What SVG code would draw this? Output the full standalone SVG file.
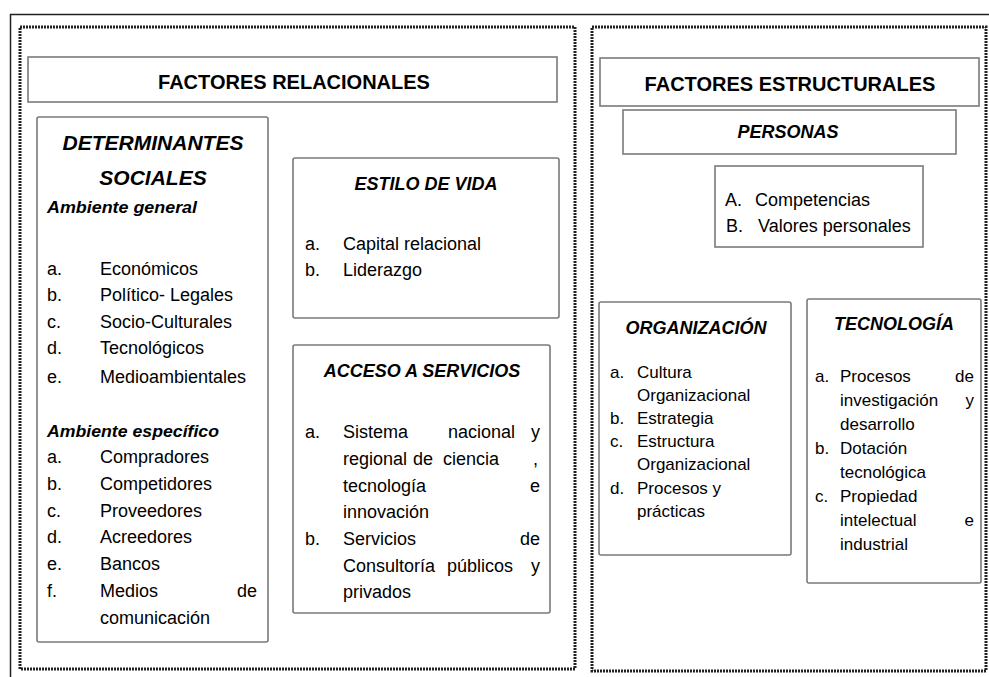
<svg xmlns="http://www.w3.org/2000/svg" width="989" height="677" viewBox="0 0 989 677">
<style>
.frame{fill:none;stroke:#222;stroke-width:1.5}
.panel{fill:#fff;stroke:#222;stroke-width:3;stroke-dasharray:2 1}
.box{fill:#fff;stroke:#7a7a7a;stroke-width:1.6}
text{font-family:"Liberation Sans",Arial,sans-serif;fill:#000}
.h1{font-size:20px;font-weight:bold;text-anchor:middle}
.h2{font-size:18px;font-weight:bold;font-style:italic;text-anchor:middle}
.h3{font-size:21px;font-weight:bold;font-style:italic;text-anchor:middle}
.sub{font-size:17px;font-weight:bold;font-style:italic}
.it{font-size:18px}
.is{font-size:17px}
.end{text-anchor:end}
</style>
<rect width="989" height="677" fill="#fff"/>
<path class="frame" d="M10.5,677 V14.5 H989"/>
<g id="panel-relacionales">
<rect class="panel" x="20" y="27" width="555" height="642"/>
</g>
<g id="panel-estructurales">
<rect class="panel" x="592" y="27" width="394" height="644"/>
</g>
<g id="factores-relacionales">
<rect class="box" x="28" y="57" width="529" height="45"/>
<text class="h1" x="294" y="89">FACTORES RELACIONALES</text>
</g>
<g id="determinantes-sociales">
<rect class="box" x="37" y="117" width="231" height="525" rx="2"/>
<text class="h3" x="153" y="150">DETERMINANTES</text>
<text class="h3" x="153" y="185">SOCIALES</text>
<text class="sub" x="47" y="213" textLength="150" lengthAdjust="spacingAndGlyphs">Ambiente general</text>
<text class="it" x="47" y="275">a.</text><text class="it" x="100" y="275">Económicos</text>
<text class="it" x="47" y="301">b.</text><text class="it" x="100" y="301">Político- Legales</text>
<text class="it" x="47" y="328">c.</text><text class="it" x="100" y="328">Socio-Culturales</text>
<text class="it" x="47" y="354">d.</text><text class="it" x="100" y="354">Tecnológicos</text>
<text class="it" x="47" y="383">e.</text><text class="it" x="100" y="383">Medioambientales</text>
<text class="sub" x="47" y="437" textLength="172" lengthAdjust="spacingAndGlyphs">Ambiente específico</text>
<text class="it" x="47" y="463">a.</text><text class="it" x="100" y="463">Compradores</text>
<text class="it" x="47" y="490">b.</text><text class="it" x="100" y="490">Competidores</text>
<text class="it" x="47" y="517">c.</text><text class="it" x="100" y="517">Proveedores</text>
<text class="it" x="47" y="543">d.</text><text class="it" x="100" y="543">Acreedores</text>
<text class="it" x="47" y="570">e.</text><text class="it" x="100" y="570">Bancos</text>
<text class="it" x="47" y="597">f.</text><text class="it" x="100" y="597">Medios</text><text class="it end" x="257" y="597">de</text>
<text class="it" x="100" y="624">comunicación</text>
</g>
<g id="estilo-de-vida">
<rect class="box" x="293" y="158" width="266" height="160" rx="2"/>
<text class="h2" x="426" y="190">ESTILO DE VIDA</text>
<text class="it" x="305" y="250">a.</text><text class="it" x="343" y="250">Capital relacional</text>
<text class="it" x="305" y="276">b.</text><text class="it" x="343" y="276">Liderazgo</text>
</g>
<g id="acceso-a-servicios">
<rect class="box" x="293" y="345" width="257" height="268" rx="2"/>
<text class="h2" x="422" y="377">ACCESO A SERVICIOS</text>
<text class="it" x="305" y="438">a.</text><text class="it" x="343" y="438">Sistema</text><text class="it" x="448" y="438">nacional</text><text class="it end" x="540" y="438">y</text>
<text class="it" x="343" y="465">regional</text><text class="it" x="413" y="465">de</text><text class="it" x="443" y="465">ciencia</text><text class="it end" x="538" y="465">,</text>
<text class="it" x="343" y="492">tecnología</text><text class="it end" x="540" y="492">e</text>
<text class="it" x="343" y="518">innovación</text>
<text class="it" x="305" y="545">b.</text><text class="it" x="343" y="545">Servicios</text><text class="it end" x="540" y="545">de</text>
<text class="it" x="343" y="572">Consultoría</text><text class="it" x="447" y="572">públicos</text><text class="it end" x="540" y="572">y</text>
<text class="it" x="343" y="598">privados</text>
</g>
<g id="factores-estructurales">
<rect class="box" x="600" y="58" width="379" height="48"/>
<text class="h1" x="790" y="91">FACTORES ESTRUCTURALES</text>
</g>
<g id="personas">
<rect class="box" x="623" y="110" width="333" height="44"/>
<text class="h2" x="788" y="138">PERSONAS</text>
</g>
<g id="personas-items">
<rect class="box" x="715" y="166" width="208" height="81"/>
<text class="it" x="725" y="206">A.</text><text class="it" x="755" y="206">Competencias</text>
<text class="it" x="726" y="232">B.</text><text class="it" x="758" y="232">Valores personales</text>
</g>
<g id="organizacion">
<rect class="box" x="599" y="302" width="192" height="253" rx="2"/>
<text class="h2" x="696" y="334">ORGANIZACIÓN</text>
<text class="is" x="610" y="378">a.</text><text class="is" x="637" y="378">Cultura</text>
<text class="is" x="637" y="401">Organizacional</text>
<text class="is" x="610" y="424">b.</text><text class="is" x="637" y="424">Estrategia</text>
<text class="is" x="610" y="447">c.</text><text class="is" x="637" y="447">Estructura</text>
<text class="is" x="637" y="470">Organizacional</text>
<text class="is" x="610" y="494">d.</text><text class="is" x="637" y="494">Procesos y</text>
<text class="is" x="637" y="517">prácticas</text>
</g>
<g id="tecnologia">
<rect class="box" x="807" y="299" width="174" height="284" rx="2"/>
<text class="h2" x="894" y="330">TECNOLOGÍA</text>
<text class="is" x="815" y="382">a.</text><text class="is" x="840" y="382">Procesos</text><text class="is end" x="974" y="382">de</text>
<text class="is" x="840" y="406">investigación</text><text class="is end" x="974" y="406">y</text>
<text class="is" x="840" y="430">desarrollo</text>
<text class="is" x="815" y="454">b.</text><text class="is" x="840" y="454">Dotación</text>
<text class="is" x="840" y="478">tecnológica</text>
<text class="is" x="815" y="502">c.</text><text class="is" x="840" y="502">Propiedad</text>
<text class="is" x="840" y="526">intelectual</text><text class="is end" x="974" y="526">e</text>
<text class="is" x="840" y="550">industrial</text>
</g>
<g id="connectors"></g>
</svg>
